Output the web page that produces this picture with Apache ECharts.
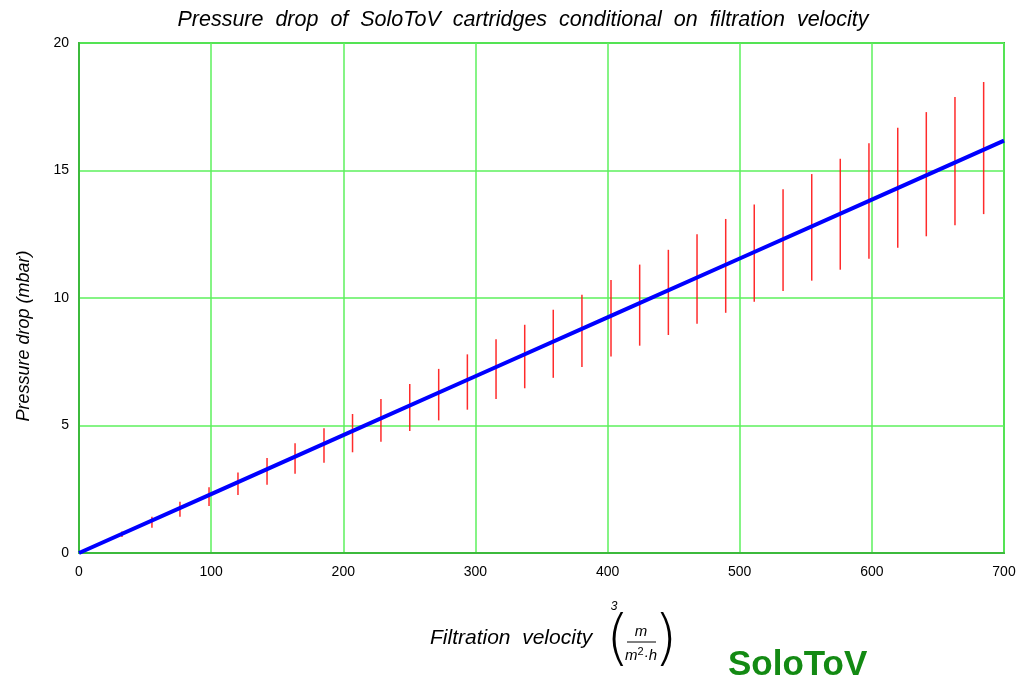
<!DOCTYPE html>
<html>
<head>
<meta charset="utf-8">
<script src="https://cdn.jsdelivr.net/npm/echarts@6/dist/echarts.min.js"></script>
<style>
    html, body {margin: 0; padding: 0; background: #fff;}
    #chart {width: 1023px; height: 680px;}
</style>
</head>
<body>
<div id="chart"></div>
<script>
// filtration velocity of each measured point (m3/m2h)
const velocity = [32.5, 55.2, 76.4, 98.4, 120.3, 142.3, 163.5, 185.4, 207.0, 228.5,
    250.3, 272.2, 293.9, 315.6, 337.3, 358.9, 380.6, 402.6, 424.3, 446.0,
    467.7, 489.4, 511.0, 532.8, 554.5, 576.1, 597.8, 619.6, 641.2, 662.9, 684.6];
// lower and upper ends of the red bars (mbar)
const dropLow = [0.63, 0.99, 1.42, 1.84, 2.27, 2.68, 3.11, 3.54, 3.95, 4.36,
    4.78, 5.20, 5.62, 6.04, 6.46, 6.87, 7.29, 7.71, 8.13, 8.55,
    8.99, 9.42, 9.85, 10.27, 10.68, 11.11, 11.54, 11.97, 12.42, 12.85, 13.29];
const dropHigh = [0.84, 1.42, 2.01, 2.58, 3.16, 3.73, 4.30, 4.89, 5.45, 6.04,
    6.63, 7.22, 7.79, 8.38, 8.95, 9.54, 10.13, 10.71, 11.31, 11.89,
    12.50, 13.10, 13.67, 14.26, 14.86, 15.46, 16.07, 16.68, 17.29, 17.88, 18.47];
// blue fitted curve
const fitX = [0, 100, 200, 300, 400, 500, 600, 700];
const fitY = [0, 2.31, 4.62, 6.93, 9.24, 11.55, 13.86, 16.17];

const barData = velocity.map((v, i) => [v, dropLow[i], dropHigh[i]]);
const fitData = fitX.map((v, i) => [v, fitY[i]]);

const font = 'Liberation Sans';

let chart = echarts.init(document.getElementById('chart'));
let option = {
    backgroundColor: '#fff',
    animation: false,
    grid: {
        left: 79, right: 19, top: 43, bottom: 127,
        show: true,
        borderColor: '#3cba3c',
        borderWidth: 2
    },
    xAxis: {
        type: 'value',
        min: 0, max: 700, interval: 100,
        axisLine: {show: true, lineStyle: {color: '#3cba3c', width: 2}},
        axisTick: {show: false},
        axisLabel: {color: '#000', fontSize: 14, fontFamily: font, margin: 12},
        splitLine: {show: true, lineStyle: {color: '#5cf05c', width: 1.5}}
    },
    yAxis: {
        type: 'value',
        min: 0, max: 20, interval: 5,
        axisLine: {show: true, lineStyle: {color: '#3cba3c', width: 2}},
        axisTick: {show: false},
        axisLabel: {color: '#000', fontSize: 14, fontFamily: font, margin: 10},
        splitLine: {show: true, lineStyle: {color: '#5cf05c', width: 1.5}}
    },
    graphic: [
        {
            type: 'text', x: 523, y: 20,
            style: {
                text: 'Pressure  drop  of  SoloToV  cartridges  conditional  on  filtration  velocity',
                align: 'center', verticalAlign: 'middle',
                fontSize: 21.5, fontStyle: 'italic', fontFamily: font, fill: '#000'
            }
        },
        {
            type: 'text', x: 24, y: 336, rotation: Math.PI / 2,
            style: {
                text: 'Pressure drop (mbar)', align: 'center', verticalAlign: 'middle',
                fontSize: 18, fontStyle: 'italic', fontFamily: font, fill: '#000'
            }
        },
        {
            type: 'text', x: 430, y: 638,
            style: {
                text: 'Filtration  velocity', verticalAlign: 'middle',
                fontSize: 21, fontStyle: 'italic', fontFamily: font, fill: '#000'
            }
        },
        {
            type: 'text', x: 606, y: 642,
            style: {
                text: '(', verticalAlign: 'middle',
                fontSize: 60, fontWeight: 'lighter', fontFamily: 'DejaVu Sans', fill: '#000'
            }
        },
        {
            type: 'text', x: 654, y: 642,
            style: {
                text: ')', verticalAlign: 'middle',
                fontSize: 60, fontWeight: 'lighter', fontFamily: 'DejaVu Sans', fill: '#000'
            }
        },
        {
            type: 'text', x: 614, y: 607,
            style: {
                text: '3', align: 'center', verticalAlign: 'middle',
                fontSize: 12, fontStyle: 'italic', fontFamily: font, fill: '#000'
            }
        },
        {
            type: 'text', x: 641, y: 632,
            style: {
                text: 'm', align: 'center', verticalAlign: 'middle',
                fontSize: 15, fontStyle: 'italic', fontFamily: font, fill: '#000'
            }
        },
        {
            type: 'line',
            shape: {x1: 627, y1: 642, x2: 656, y2: 642},
            style: {stroke: '#000', lineWidth: 1}
        },
        {
            type: 'text', x: 641, y: 656,
            style: {
                text: '{a|m}{s|2}{a|·h}', align: 'center', verticalAlign: 'middle',
                rich: {
                    a: {fontSize: 15, fontStyle: 'italic', fontFamily: font, fill: '#000'},
                    s: {fontSize: 11, fontFamily: font, fill: '#000', verticalAlign: 'top', padding: [0, 0, 8, 0]}
                }
            }
        },
        {
            type: 'text', x: 728, y: 665,
            style: {
                text: 'SoloToV', verticalAlign: 'middle',
                fontSize: 35, fontWeight: 'bold', fontFamily: 'Liberation Sans', fill: '#138a13'
            }
        }
    ],
    series: [
        {
            type: 'custom',
            clip: true,
            z: 3,
            renderItem: function (params, api) {
                const p1 = api.coord([api.value(0), api.value(1)]);
                const p2 = api.coord([api.value(0), api.value(2)]);
                return {
                    type: 'line',
                    shape: {x1: p1[0], y1: p1[1], x2: p2[0], y2: p2[1]},
                    style: {stroke: 'rgba(255, 20, 20, 0.9)', lineWidth: 1.5}
                };
            },
            encode: {x: 0, y: [1, 2]},
            data: barData
        },
        {
            type: 'line',
            z: 4,
            symbol: 'none',
            lineStyle: {color: '#0000ff', width: 4},
            data: fitData
        }
    ]
};
chart.setOption(option);
</script>
</body>
</html>
